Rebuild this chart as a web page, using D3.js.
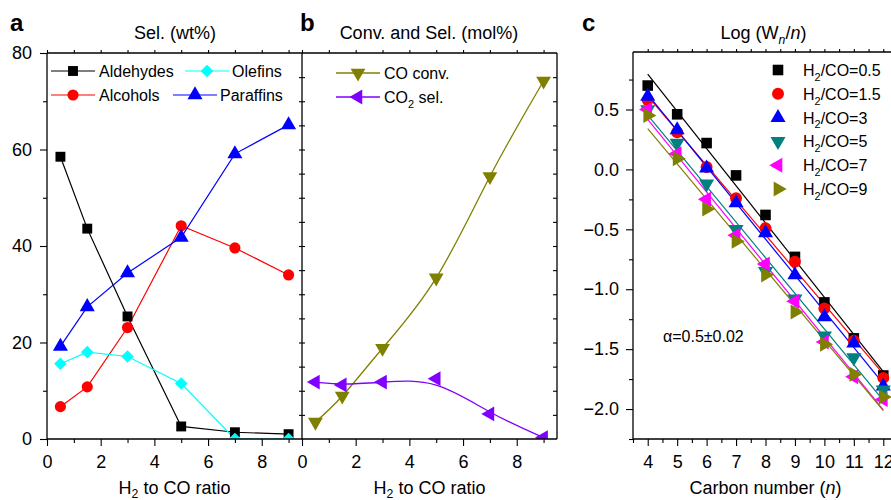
<!DOCTYPE html>
<html>
<head>
<meta charset="utf-8">
<script src="https://cdn.jsdelivr.net/npm/d3@7"></script>
<style>
  body { margin: 0; background: #fff; }
  svg { display: block; font-family: "Liberation Sans", Arial, Helvetica, sans-serif; }
</style>
</head>
<body>
<svg id="chart" width="891" height="500"></svg>
<script>
// ── Daten ──────────────────────────────────────────────────────
// Panel a / b: H2/CO-Verhältnis
const ratios    = [0.5, 1.5, 3, 5, 7, 9];
const aldehydes = [58.5, 43.6, 25.4, 2.6, 1.4, 1.0];
const alcohols  = [6.7, 10.8, 23.1, 44.2, 39.6, 34.0];
const olefins   = [15.6, 18.0, 17.1, 11.5, 0, 0];
const paraffins = [19.2, 27.4, 34.4, 41.8, 59.1, 65.1];
const coConv    = [3.5, 8.9, 18.8, 33.4, 54.4, 74.2];
const co2Sel    = [11.8, 11.2, 11.8, 12.5, 5.2, 0.3];

// Panel c: ASF-Verteilung
const carbonNumbers = [4, 5, 6, 7, 8, 9, 10, 11, 12];
const asfLabels = ['0.5', '1.5', '3', '5', '7', '9'];
const asf05 = [0.70, 0.46, 0.22, -0.05, -0.38, -0.73, -1.11, -1.41, -1.72];
const asf15 = [0.58, 0.31, 0.02, -0.24, -0.49, -0.77, -1.16, -1.43, -1.74];
const asf3  = [0.61, 0.33, 0.01, -0.28, -0.53, -0.88, -1.23, -1.45, -1.81];
const asf5  = [0.50, 0.22, -0.12, -0.50, -0.85, -1.08, -1.39, -1.57, -1.84];
const asf7  = [0.50, 0.13, -0.25, -0.55, -0.79, -1.10, -1.44, -1.73, -1.92];
const asf9  = [0.45, 0.09, -0.33, -0.60, -0.88, -1.19, -1.46, -1.71, -1.90];

// Achsen
const ratioMajor = [0, 2, 4, 6, 8];
const ratioMinor = [1, 3, 5, 7, 9];
const pctMajor = [0, 20, 40, 60, 80];
const pctMinor = [10, 30, 50, 70];
const logMajor = [-2, -1.5, -1, -0.5, 0, 0.5];

const FONT = '"Liberation Sans", Arial, Helvetica, sans-serif';
const svg = d3.select('#chart');
const defs = svg.append('defs');

// ── Skalen ─────────────────────────────────────────────────────
const xA = d3.scaleLinear().domain([0, 9.5]).range([47, 302]);
const xB = d3.scaleLinear().domain([0, 9.5]).range([302, 557]);
const yAB = d3.scaleLinear().domain([0, 80]).range([439, 53]);
const xC = d3.scaleLinear().domain([3.5, 12.5]).range([633, 898]);
const yC = d3.scaleLinear().domain([-2.25, 0.98]).range([439, 52]);

// Marker: Typ + Rotation
const SYM = {
  square:   { type: d3.symbolSquare, rot: 0 },
  circle:   { type: d3.symbolCircle, rot: 0 },
  diamond:  { type: d3.symbolSquare, rot: 45 },
  up:       { type: d3.symbolTriangle, rot: 0 },
  down:     { type: d3.symbolTriangle, rot: 180 },
  left:     { type: d3.symbolTriangle, rot: -90 },
  right:    { type: d3.symbolTriangle, rot: 90 },
};

function marker(g, x, y, kind, size, color) {
  const s = SYM[kind];
  g.append('path')
    .attr('d', d3.symbol().type(s.type).size(size)())
    .attr('transform', `translate(${x},${y}) rotate(${s.rot})`)
    .attr('fill', color);
}

function clipRect(id, x0, y0, x1, y1) {
  defs.append('clipPath').attr('id', id)
    .append('rect').attr('x', x0).attr('y', y0)
    .attr('width', x1 - x0).attr('height', y1 - y0);
}

function axis(axisFn, scale, values, size, padding, fmt, y0, x0) {
  const g = svg.append('g')
    .attr('transform', `translate(${x0 || 0},${y0 || 0})`)
    .call(axisFn(scale).tickValues(values).tickSize(size).tickPadding(padding)
      .tickFormat(fmt || (() => '')));
  g.select('.domain').remove();
  g.attr('font-family', FONT).attr('font-size', 18);
  g.selectAll('line').attr('stroke', '#000').attr('stroke-width', 1.1);
  g.selectAll('text').attr('fill', '#000');
  return g;
}

function frameLine(x1, y1, x2, y2) {
  svg.append('line')
    .attr('x1', x1).attr('y1', y1).attr('x2', x2).attr('y2', y2)
    .attr('stroke', '#000').attr('stroke-width', 1.3);
}

// Text mit Tiefstellung: parts = [[text, sub?, italic?], ...]
function richText(x, y, parts, size, anchor, shift) {
  const dy = shift || size * 0.3;
  const t = svg.append('text')
    .attr('x', x).attr('y', y)
    .attr('font-size', size)
    .attr('text-anchor', anchor || 'start')
    .attr('fill', '#000');
  let shifted = false;
  parts.forEach(([txt, sub, it]) => {
    const sp = t.append('tspan').text(txt);
    if (sub && !shifted) { sp.attr('dy', dy).attr('font-size', size * 0.68); shifted = true; }
    else if (sub) { sp.attr('font-size', size * 0.68); }
    else if (shifted) { sp.attr('dy', -dy); shifted = false; }
    if (it) sp.attr('font-style', 'italic');
  });
  return t;
}

function panelLetter(x, txt) {
  svg.append('text').attr('x', x).attr('y', 31)
    .attr('font-size', 24).attr('font-weight', 'bold').text(txt);
}

// ── Panel a ────────────────────────────────────────────────────
clipRect('clipA', 47, 53, 302, 439);
const gA = svg.append('g').attr('clip-path', 'url(#clipA)');

const seriesA = [
  { name: 'Aldehydes', values: aldehydes, color: '#000000', kind: 'square', size: 98 },
  { name: 'Alcohols',  values: alcohols,  color: '#ff0000', kind: 'circle', size: 98 },
  { name: 'Olefins',   values: olefins,   color: '#00ffff', kind: 'diamond', size: 80 },
  { name: 'Paraffins', values: paraffins, color: '#0000ff', kind: 'up', size: 98 },
];
const lineA = d3.line().x(d => xA(d[0])).y(d => yAB(d[1]));
seriesA.forEach(s => {
  const pts = ratios.map((r, i) => [r, s.values[i]]);
  gA.append('path').attr('d', lineA(pts))
    .attr('fill', 'none').attr('stroke', s.color).attr('stroke-width', 1.2);
});
seriesA.forEach(s => {
  ratios.forEach((r, i) => marker(gA, xA(r), yAB(s.values[i]), s.kind, s.size, s.color));
});

// Legende a
[[0, 71, 73, 99], [1, 95, 73, 99], [2, 71, 207, 232], [3, 95, 195, 220]].forEach(([i, y, mx, tx]) => {
  const s = seriesA[i];
  svg.append('line').attr('x1', mx - 22).attr('x2', mx + 22).attr('y1', y).attr('y2', y)
    .attr('stroke', s.color).attr('stroke-width', 1.2);
  marker(svg, mx, y, s.kind, s.size, s.color);
  svg.append('text').attr('x', tx).attr('y', y).attr('dy', '0.36em')
    .attr('font-size', 16).text(s.name);
});

// Achsen a
axis(d3.axisBottom, xA, ratioMajor, 7, 9, d3.format('d'), 439);
axis(d3.axisBottom, xA, ratioMinor, 4, 0, null, 439);
axis(d3.axisTop, xA, d3.range(0, 10), 3, 0, null, 53);
axis(d3.axisLeft, yAB, pctMajor, 7, 8, d3.format('d'), 0, 47);
axis(d3.axisLeft, yAB, pctMinor, 4, 0, null, 0, 47);
axis(d3.axisLeft, yAB, d3.range(5, 80, 5), 3, 0, null, 0, 302);
frameLine(47, 53, 47, 439);
frameLine(47, 439, 302, 439);
frameLine(47, 53, 302, 53);
panelLetter(10, 'a');
svg.append('text').attr('x', 175).attr('y', 39).attr('text-anchor', 'middle')
  .attr('font-size', 18).text('Sel. (wt%)');
richText(174.5, 494, [['H'], ['2', true], [' to CO ratio']], 18, 'middle', 4);

// ── Panel b ────────────────────────────────────────────────────
clipRect('clipB', 302, 53, 557, 439);
const gB = svg.append('g').attr('clip-path', 'url(#clipB)');

const seriesB = [
  { values: coConv, color: '#808000', kind: 'down', curve: d3.curveNatural },
  { values: co2Sel, color: '#8000ff', kind: 'left', curve: d3.curveBasis },
];
seriesB.forEach(s => {
  const pts = ratios.map((r, i) => [r, s.values[i]]);
  const line = d3.line().x(d => xB(d[0])).y(d => yAB(d[1])).curve(s.curve);
  gB.append('path').attr('d', line(pts))
    .attr('fill', 'none').attr('stroke', s.color).attr('stroke-width', 1.3);
});
seriesB.forEach(s => {
  ratios.forEach((r, i) => marker(gB, xB(r), yAB(s.values[i]), s.kind, 95, s.color));
});

// Legende b
seriesB.forEach((s, i) => {
  const y = 73 + i * 24;
  svg.append('line').attr('x1', 336).attr('x2', 380).attr('y1', y).attr('y2', y)
    .attr('stroke', s.color).attr('stroke-width', 1.3);
  marker(svg, 358, y, s.kind, 95, s.color);
});
richText(384, 73 + 6, [['CO conv.']], 16);
richText(384, 97 + 6, [['CO'], ['2', true], [' sel.']], 16);

// Achsen b
axis(d3.axisBottom, xB, ratioMajor, 7, 9, d3.format('d'), 439);
axis(d3.axisBottom, xB, ratioMinor, 4, 0, null, 439);
axis(d3.axisTop, xB, d3.range(0, 10), 3, 0, null, 53);
axis(d3.axisRight, yAB, d3.range(5, 80, 5), 3, 0, null, 0, 302);
axis(d3.axisRight, yAB, d3.range(5, 80, 5), -4, 0, null, 0, 557);
frameLine(302, 53, 302, 439);
frameLine(302, 439, 557, 439);
frameLine(302, 53, 557, 53);
frameLine(557, 53, 557, 439);
panelLetter(300, 'b');
svg.append('text').attr('x', 429).attr('y', 39).attr('text-anchor', 'middle')
  .attr('font-size', 18).text('Conv. and Sel. (mol%)');
richText(429.5, 494, [['H'], ['2', true], [' to CO ratio']], 18, 'middle', 4);

// ── Panel c ────────────────────────────────────────────────────
clipRect('clipC', 633, 52, 898, 439);
const gC = svg.append('g').attr('clip-path', 'url(#clipC)');

const seriesC = [
  { values: asf05, color: '#000000', kind: 'square', size: 112 },
  { values: asf15, color: '#ff0000', kind: 'circle', size: 112 },
  { values: asf3,  color: '#0000ff', kind: 'up', size: 98 },
  { values: asf5,  color: '#008080', kind: 'down', size: 98 },
  { values: asf7,  color: '#ff00ff', kind: 'left', size: 98 },
  { values: asf9,  color: '#808000', kind: 'right', size: 98 },
];

// Lineare Regression je Serie (ASF-Gerade)
function fit(xs, ys) {
  const mx = d3.mean(xs), my = d3.mean(ys);
  const sxy = d3.sum(xs, (x, i) => (x - mx) * (ys[i] - my));
  const sxx = d3.sum(xs, x => (x - mx) ** 2);
  const k = sxy / sxx;
  return x => my + k * (x - mx);
}
seriesC.forEach(s => {
  const f = fit(carbonNumbers, s.values);
  const x0 = carbonNumbers[0], x1 = carbonNumbers[carbonNumbers.length - 1];
  gC.append('line')
    .attr('x1', xC(x0)).attr('y1', yC(f(x0)))
    .attr('x2', xC(x1)).attr('y2', yC(f(x1)))
    .attr('stroke', s.color).attr('stroke-width', 1.2);
});
seriesC.forEach(s => {
  carbonNumbers.forEach((n, i) => marker(gC, xC(n), yC(s.values[i]), s.kind, s.size, s.color));
});

// Legende c
seriesC.forEach((s, i) => {
  const y = 70 + i * 23.8;
  marker(svg, 778, y, s.kind, s.size, s.color);
  richText(803, y + 6, [['H'], ['2', true], ['/CO=' + asfLabels[i]]], 16);
});

svg.append('text').attr('x', 663).attr('y', 342).attr('font-size', 16)
  .text('\u03b1=0.5\u00b10.02');

// Achsen c
axis(d3.axisBottom, xC, carbonNumbers, 7, 9, d3.format('d'), 439);
axis(d3.axisBottom, xC, d3.range(3.5, 12.6, 1), 4, 0, null, 439);
axis(d3.axisTop, xC, d3.range(4, 12.6, 0.5), 3, 0, null, 52);
axis(d3.axisLeft, yC, logMajor, 7, 7, d3.format('.1f'), 0, 633);
axis(d3.axisLeft, yC, d3.range(-2.25, 0.8, 0.5), 4, 0, null, 0, 633);
frameLine(633, 52, 633, 439);
frameLine(633, 439, 898, 439);
frameLine(633, 52, 898, 52);
panelLetter(582, 'c');
richText(763.5, 39, [['Log (W'], ['n', true, true], ['/'], ['n', false, true], [')']], 18, 'middle');
richText(765.5, 494, [['Carbon number ('], ['n', false, true], [')']], 18, 'middle');
</script>
</body>
</html>
